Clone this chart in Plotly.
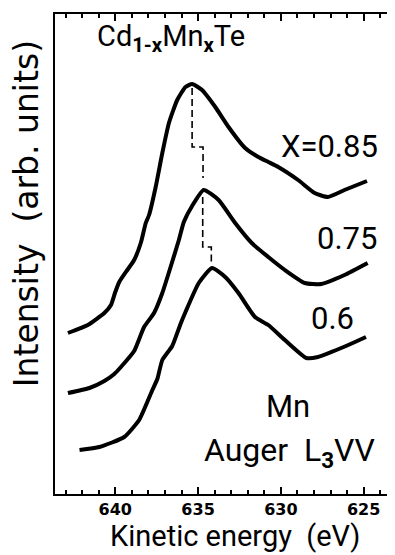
import plotly.graph_objects as go

# ---- data ----
energy_085 = [642.86, 641.66, 640.66, 640.26, 640.02, 639.76, 639.36, 638.86, 638.46, 638.16,
              637.96, 637.56, 637.16, 636.76, 636.26, 635.76, 635.36, 634.76, 633.96, 633.16,
              632.16, 631.36, 630.76, 630.16, 628.96, 627.96, 627.16, 626.16, 624.80]
intensity_085 = [16.1, 16.9, 18.1, 18.9, 20.1, 21.2, 22.2, 23.4, 25.1, 27.1,
                 27.9, 30.7, 34.1, 37.1, 39.4, 40.7, 41.0, 40.4, 38.7, 36.7,
                 34.6, 33.7, 33.2, 32.7, 31.4, 30.1, 29.7, 30.4, 31.3]

energy_075 = [642.86, 641.56, 640.66, 640.06, 639.66, 638.86, 638.26, 637.66, 637.16, 636.66,
              636.16, 635.86, 635.36, 634.66, 633.76, 632.76, 631.76, 630.76, 629.76, 628.56,
              627.56, 626.16, 624.76]
intensity_075 = [10.1, 10.6, 11.3, 12.0, 12.7, 14.3, 16.7, 18.1, 20.1, 22.7,
                 25.4, 27.2, 28.8, 30.4, 29.4, 27.1, 25.1, 23.7, 22.4, 21.1,
                 21.0, 21.9, 23.1]

energy_060 = [642.16, 640.96, 639.46, 638.56, 637.76, 637.46, 637.16, 636.56, 636.06, 635.76,
              634.96, 634.16, 633.36, 632.56, 631.56, 630.76, 629.76, 628.46, 627.76, 626.36,
              624.86]
intensity_060 = [4.4, 4.7, 5.7, 7.4, 10.4, 11.5, 13.4, 14.8, 17.0, 18.2,
                 21.1, 22.6, 21.7, 20.1, 17.7, 16.9, 15.4, 13.6, 13.7, 14.6,
                 15.7]

# peak-shift guide (dashed)
guide_energy = [635.36, 635.36, 634.70, 634.70, None, 634.72, 634.72, 634.20, 634.20]
guide_intensity = [40.6, 34.7, 34.7, 31.6, None, 29.7, 24.7, 24.7, 23.2]

series_labels = ["X=0.85", "0.75", "0.6"]
label_energy = [627.07, 626.0, 626.9]
label_intensity = [34.8, 25.55, 17.55]

tick_vals = [640, 635, 630, 625]
tick_text = ["640", "635", "630", "625"]

x_range = [643.64, 623.41]
y_range = [0, 48]

FONT = "Roboto"

fig = go.Figure()
for ex, iy, name in [(energy_085, intensity_085, "X=0.85"),
                     (energy_075, intensity_075, "X=0.75"),
                     (energy_060, intensity_060, "X=0.6")]:
    fig.add_trace(go.Scatter(x=ex, y=iy, mode="lines", name=name,
                             line=dict(color="black", width=4, shape="spline", smoothing=0.5),
                             showlegend=False, hoverinfo="x+y"))

fig.add_trace(go.Scatter(x=guide_energy, y=guide_intensity, mode="lines",
                         line=dict(color="black", width=1.6, dash="7px,4px"),
                         showlegend=False, hoverinfo="skip", connectgaps=False))

for txt, ex, iy in zip(series_labels, label_energy, label_intensity):
    fig.add_annotation(x=ex, y=iy, text=txt, showarrow=False,
                       font=dict(family=FONT, size=31, color="black"),
                       xanchor="center", yanchor="middle")

fig.add_annotation(x=641.25, y=45.6, text="Cd<sub><b>1-x</b></sub>Mn<sub><b>x</b></sub>Te",
                   showarrow=False, font=dict(family=FONT, size=29, color="black"),
                   xanchor="left", yanchor="middle")
fig.add_annotation(x=629.56, y=8.8, text="Mn", showarrow=False,
                   font=dict(family=FONT, size=31, color="black"),
                   xanchor="center", yanchor="middle")
fig.add_annotation(x=629.45, y=4.2, text="Auger  L<sub><b>3</b></sub>VV", showarrow=False,
                   font=dict(family=FONT, size=32, color="black"),
                   xanchor="center", yanchor="middle")

# axis titles as annotations (offset from axis centre as in the original)
fig.add_annotation(xref="paper", yref="paper", x=0.5386, y=-0.0885,
                   text="Kinetic energy  (eV)", showarrow=False,
                   font=dict(family=FONT, size=29, color="black"),
                   xanchor="center", yanchor="middle")
fig.add_annotation(xref="paper", yref="paper", x=-0.085, y=0.584,
                   text="Intensity  (arb. units)", showarrow=False, textangle=-90,
                   font=dict(family="DejaVu Sans", size=33, color="black"),
                   xanchor="center", yanchor="middle")

fig.update_xaxes(range=x_range, tickmode="array", tickvals=tick_vals, ticktext=tick_text,
                 ticks="inside", ticklen=7, tickwidth=2, tickcolor="black",
                 minor=dict(dtick=1, tick0=625, ticks="inside", ticklen=4, tickwidth=1.5,
                            tickcolor="black", showgrid=False),
                 showline=True, linewidth=2, linecolor="black", mirror="ticks",
                 showgrid=False, zeroline=False,
                 tickfont=dict(family="DejaVu Sans", size=16, color="black", weight="bold"))
fig.update_yaxes(range=y_range, showticklabels=False, ticks="",
                 showline=True, linewidth=2, linecolor="black", mirror=True,
                 showgrid=False, zeroline=False)

# page body has an 8px margin, so the figure is sized to fit the 395x555 window
fig.update_layout(width=387, height=547, margin=dict(l=47, r=3, t=6, b=61),
                  plot_bgcolor="white", paper_bgcolor="white")

fig.write_html("out.html")
